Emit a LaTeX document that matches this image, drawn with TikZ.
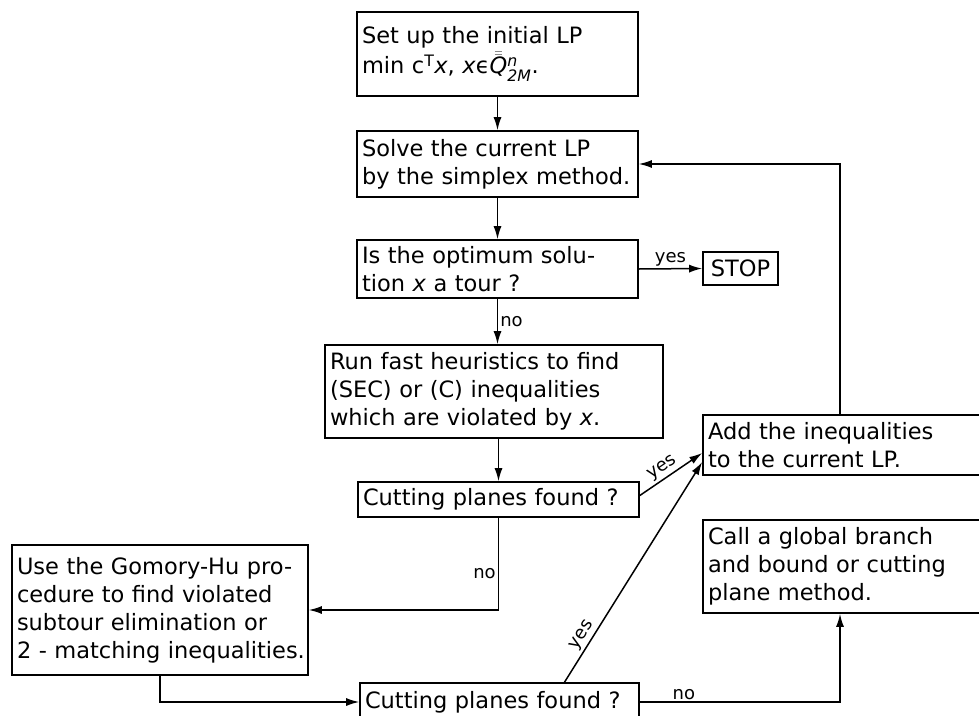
\documentclass[tikz,border=0pt]{standalone}
\usepackage{amsmath}
\usepackage{fontspec}
\setmainfont{DejaVu Sans}
\usetikzlibrary{arrows.meta}
\begin{document}
\begin{tikzpicture}[x=1pt,y=-1pt,
  box/.style={draw, line width=1.6pt, inner xsep=5pt, inner ysep=0pt, align=left,
    font=\fontsize{22.5}{28}\selectfont},
  lbl/.style={font=\fontsize{18}{20}\selectfont, inner sep=2pt},
  conn/.style={line width=1.5pt, -{Latex[length=13pt,width=8pt]}},
  plainline/.style={line width=1.5pt}]
\useasboundingbox (0,0) rectangle (979,715);
% boxes
\node[box, text width=271pt, minimum height=84pt] (b1) at (497.5,54)
  {Set up the initial LP\\[2pt]min c$^{\text{T}}$\textit{x}, \textit{x}ϵ$\bar{\bar{\textit{Q}}}{}^{\textit{n}}_{\textit{2M}}$.};
\node[box, text width=271pt, minimum height=66pt] (b2) at (497.5,164)
  {Solve the current LP\\by the simplex method.};
\node[box, text width=271pt, minimum height=58pt] (b3) at (497.5,269)
  {Is the optimum solu-\\tion \textit{x} a tour ?};
\node[box, inner xsep=4pt, minimum width=75pt, minimum height=33pt] (stop) at (740.5,268.5) {STOP};
\node[box, text width=328pt, minimum height=93pt] (b4) at (494,391.5)
  {Run fast heuristics to find\\(SEC) or (C) inequalities\\which are violated by \textit{x}.};
\node[box, text width=271pt, minimum height=35pt] (b5) at (498.5,499.5)
  {Cutting planes found ?};
\node[box, text width=277pt, minimum height=60pt] (add) at (846.5,445)
  {Add the inequalities\\to the current LP.};
\node[box, text width=277pt, minimum height=93pt] (call) at (846.5,566.5)
  {Call a global branch\\and bound or cutting\\plane method.};
\node[box, text width=286pt, minimum height=130pt] (gom) at (160,610)
  {Use the Gomory-Hu pro-\\cedure to find violated\\subtour elimination or\\\mbox{2 - matching inequalities.}};
\node[box, text width=269pt, minimum height=38pt] (b6) at (499.5,702)
  {Cutting planes found ?};
% connectors
\draw[conn] (b1.south) -- (b2.north);
\draw[conn] (b2.south) -- (b3.north);
\draw[conn] (b3.east) -- node[lbl, above] {yes} (stop.west);
\draw[conn] (b3.south) -- node[lbl, right] {no} (b3.south |- b4.north);
\draw[conn] (b4.south -| b5.north) -- (b5.north);
\draw[conn] ([yshift=4pt]b5.east) -- node[lbl, above, sloped, pos=0.45] {yes} ([yshift=-8pt]add.west);
\draw[conn] (b5.south) |- node[lbl, left, pos=0.3] {no} (gom.east);
\draw[conn] (gom.south) |- (b6.west);
\draw[conn] ([xshift=65pt]b6.north) -- node[lbl, above, sloped, pos=0.19] {yes} ([yshift=-17pt]add.west);
\draw[conn] (b6.east) -| node[lbl, above, pos=0.11] {no} ([xshift=-6.5pt]call.south);
\draw[conn] ([xshift=-6.5pt]add.north) |- (b2.east);
\end{tikzpicture}
\end{document}
